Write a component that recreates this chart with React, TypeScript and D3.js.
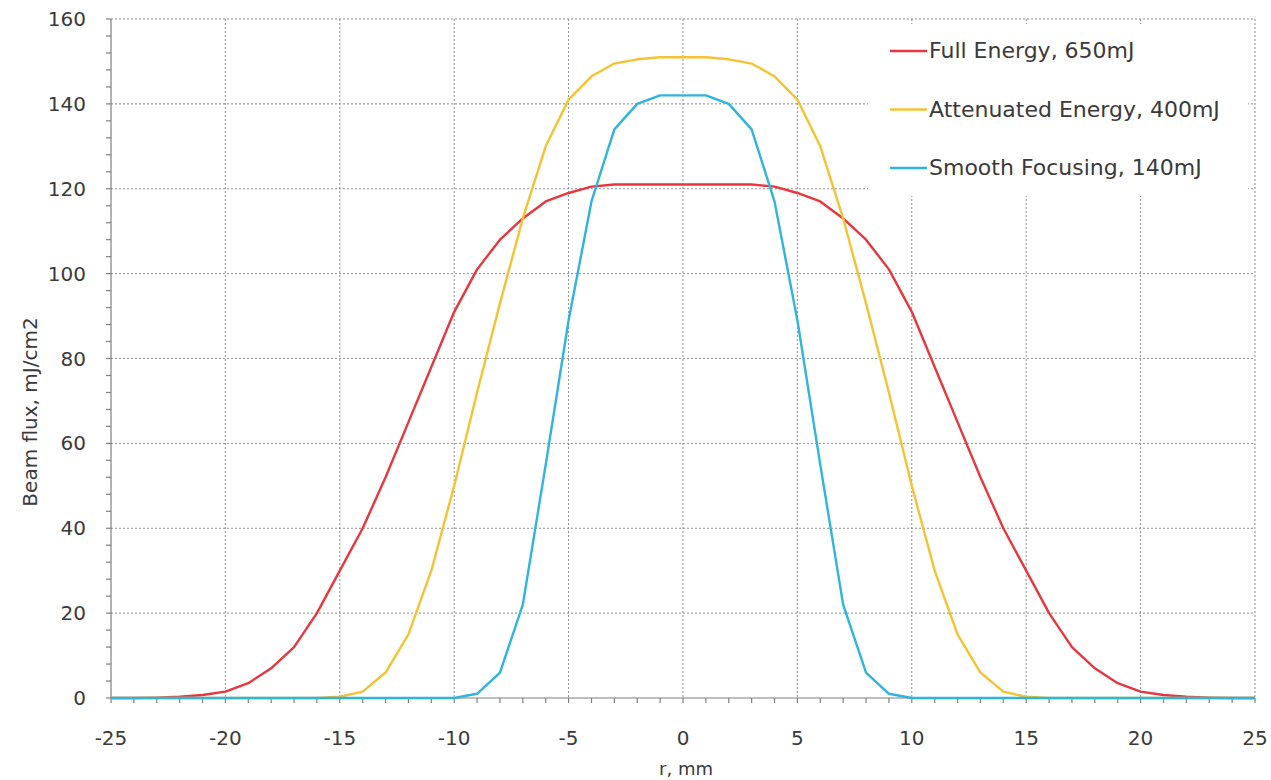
import { useEffect, useRef } from 'react'
import * as d3 from 'd3'

const radius = d3.range(-25, 26)

// values read at every integer r, mm
const fullEnergy = [
  0, 0, 0.1, 0.3, 0.7, 1.5, 3.5, 7, 12, 20, 30, 40, 52, 65, 78, 91, 101, 108, 113, 117, 119, 120.5, 121, 121, 121, 121,
  121, 121, 121, 120.5, 119, 117, 113, 108, 101, 91, 78, 65, 52, 40, 30, 20, 12, 7, 3.5, 1.5, 0.7, 0.3, 0.1, 0, 0,
]
const attenuated = [
  0, 0, 0, 0, 0, 0, 0, 0, 0, 0, 0.3, 1.5, 6, 15, 30, 50, 72, 93, 113, 130, 141, 146.5, 149.5, 150.5, 151, 151,
  151, 150.5, 149.5, 146.5, 141, 130, 113, 93, 72, 50, 30, 15, 6, 1.5, 0.3, 0, 0, 0, 0, 0, 0, 0, 0, 0, 0,
]
const smooth = [
  0, 0, 0, 0, 0, 0, 0, 0, 0, 0, 0, 0, 0, 0, 0, 0, 1, 6, 22, 55, 89, 117, 134, 140, 142, 142,
  142, 140, 134, 117, 89, 55, 22, 6, 1, 0, 0, 0, 0, 0, 0, 0, 0, 0, 0, 0, 0, 0, 0, 0, 0,
]

const seriesNames = ['Full Energy, 650mJ', 'Attenuated Energy, 400mJ', 'Smooth Focusing, 140mJ']
const seriesValues = [fullEnergy, attenuated, smooth]
const seriesColors = ['#e8363f', '#f4c232', '#2fb4de']

const xTicks = d3.range(-25, 26, 5)
const yTicks = d3.range(0, 161, 20)

const W = 1271
const H = 780
const FONT = 'DejaVu Sans, sans-serif'
const INK = '#3a3a3a'

export default function App() {
  const svgRef = useRef<SVGSVGElement>(null)

  useEffect(() => {
    document.body.style.margin = '0'
    const svg = d3.select(svgRef.current)
    svg.selectAll('*').remove()

    const x = d3.scaleLinear().domain([-25, 25]).range([111, 1255])
    const y = d3.scaleLinear().domain([0, 160]).range([698, 19])

    const grid = svg.append('g').attr('stroke', '#8c8c8c').attr('stroke-width', 1).attr('stroke-dasharray', '2,2')
    grid.selectAll('.gx')
      .data(xTicks.filter((d) => d > -25))
      .join('line')
      .attr('x1', (d) => x(d)).attr('x2', (d) => x(d))
      .attr('y1', y(160)).attr('y2', y(0))
    grid.selectAll('.gy')
      .data(yTicks.filter((d) => d > 0))
      .join('line')
      .attr('x1', x(-25)).attr('x2', x(25))
      .attr('y1', (d) => y(d)).attr('y2', (d) => y(d))

    // legend box hides gridlines beneath
    svg.append('rect').attr('x', 868).attr('y', 24).attr('width', 380).attr('height', 172).attr('fill', '#fff')

    // axes
    const ax = svg.append('g').attr('stroke', '#7f7f7f').attr('stroke-width', 1.2)
    ax.append('line').attr('x1', x(-25)).attr('x2', x(25)).attr('y1', y(0)).attr('y2', y(0))
    ax.append('line').attr('x1', x(-25)).attr('x2', x(-25)).attr('y1', y(0)).attr('y2', y(160))
    ax.selectAll('.tx')
      .data(d3.range(-25, 26))
      .join('line')
      .attr('x1', (d) => x(d)).attr('x2', (d) => x(d))
      .attr('y1', y(0)).attr('y2', y(0) + 5)
    ax.selectAll('.ty')
      .data(d3.range(0, 161, 4))
      .join('line')
      .attr('x1', x(-25) - 5).attr('x2', x(-25))
      .attr('y1', (d) => y(d)).attr('y2', (d) => y(d))

    const line = d3.line<number>()
      .x((_, i) => x(radius[i]))
      .y((d) => y(d))

    seriesValues.forEach((vals, k) => {
      svg.append('path')
        .datum(vals)
        .attr('d', line)
        .attr('fill', 'none')
        .attr('stroke', seriesColors[k])
        .attr('stroke-width', 2.4)
        .attr('stroke-linejoin', 'round')
    })

    svg.selectAll('.xl')
      .data(xTicks)
      .join('text')
      .attr('x', (d) => x(d)).attr('y', 745)
      .attr('text-anchor', 'middle')
      .attr('font-family', FONT).attr('font-size', 20).attr('fill', INK)
      .text((d) => d)
    svg.selectAll('.yl')
      .data(yTicks)
      .join('text')
      .attr('x', 86).attr('y', (d) => y(d) + 7)
      .attr('text-anchor', 'end')
      .attr('font-family', FONT).attr('font-size', 20).attr('fill', INK)
      .text((d) => d)

    svg.append('text')
      .attr('x', 686).attr('y', 775)
      .attr('text-anchor', 'middle')
      .attr('font-family', FONT).attr('font-size', 18).attr('fill', INK)
      .text('r, mm')
    svg.append('text')
      .attr('transform', 'translate(37,412) rotate(-90)')
      .attr('text-anchor', 'middle')
      .attr('font-family', FONT).attr('font-size', 20).attr('fill', INK)
      .text('Beam flux, mJ/cm2')

    const lg = svg.selectAll('.lg').data(seriesNames).join('g')
      .attr('transform', (_, i) => `translate(890,${58 + i * 58.5})`)
    lg.append('line').attr('x1', 0).attr('x2', 37).attr('y1', -7).attr('y2', -7)
      .attr('stroke', (_, i) => seriesColors[i]).attr('stroke-width', 2.4)
    lg.append('text').attr('x', 39).attr('y', 0)
      .attr('font-family', FONT).attr('font-size', 22).attr('fill', INK)
      .text((d) => d)
  }, [])

  return <svg ref={svgRef} width={W} height={H} style={{ display: 'block', background: '#fff' }} />
}
